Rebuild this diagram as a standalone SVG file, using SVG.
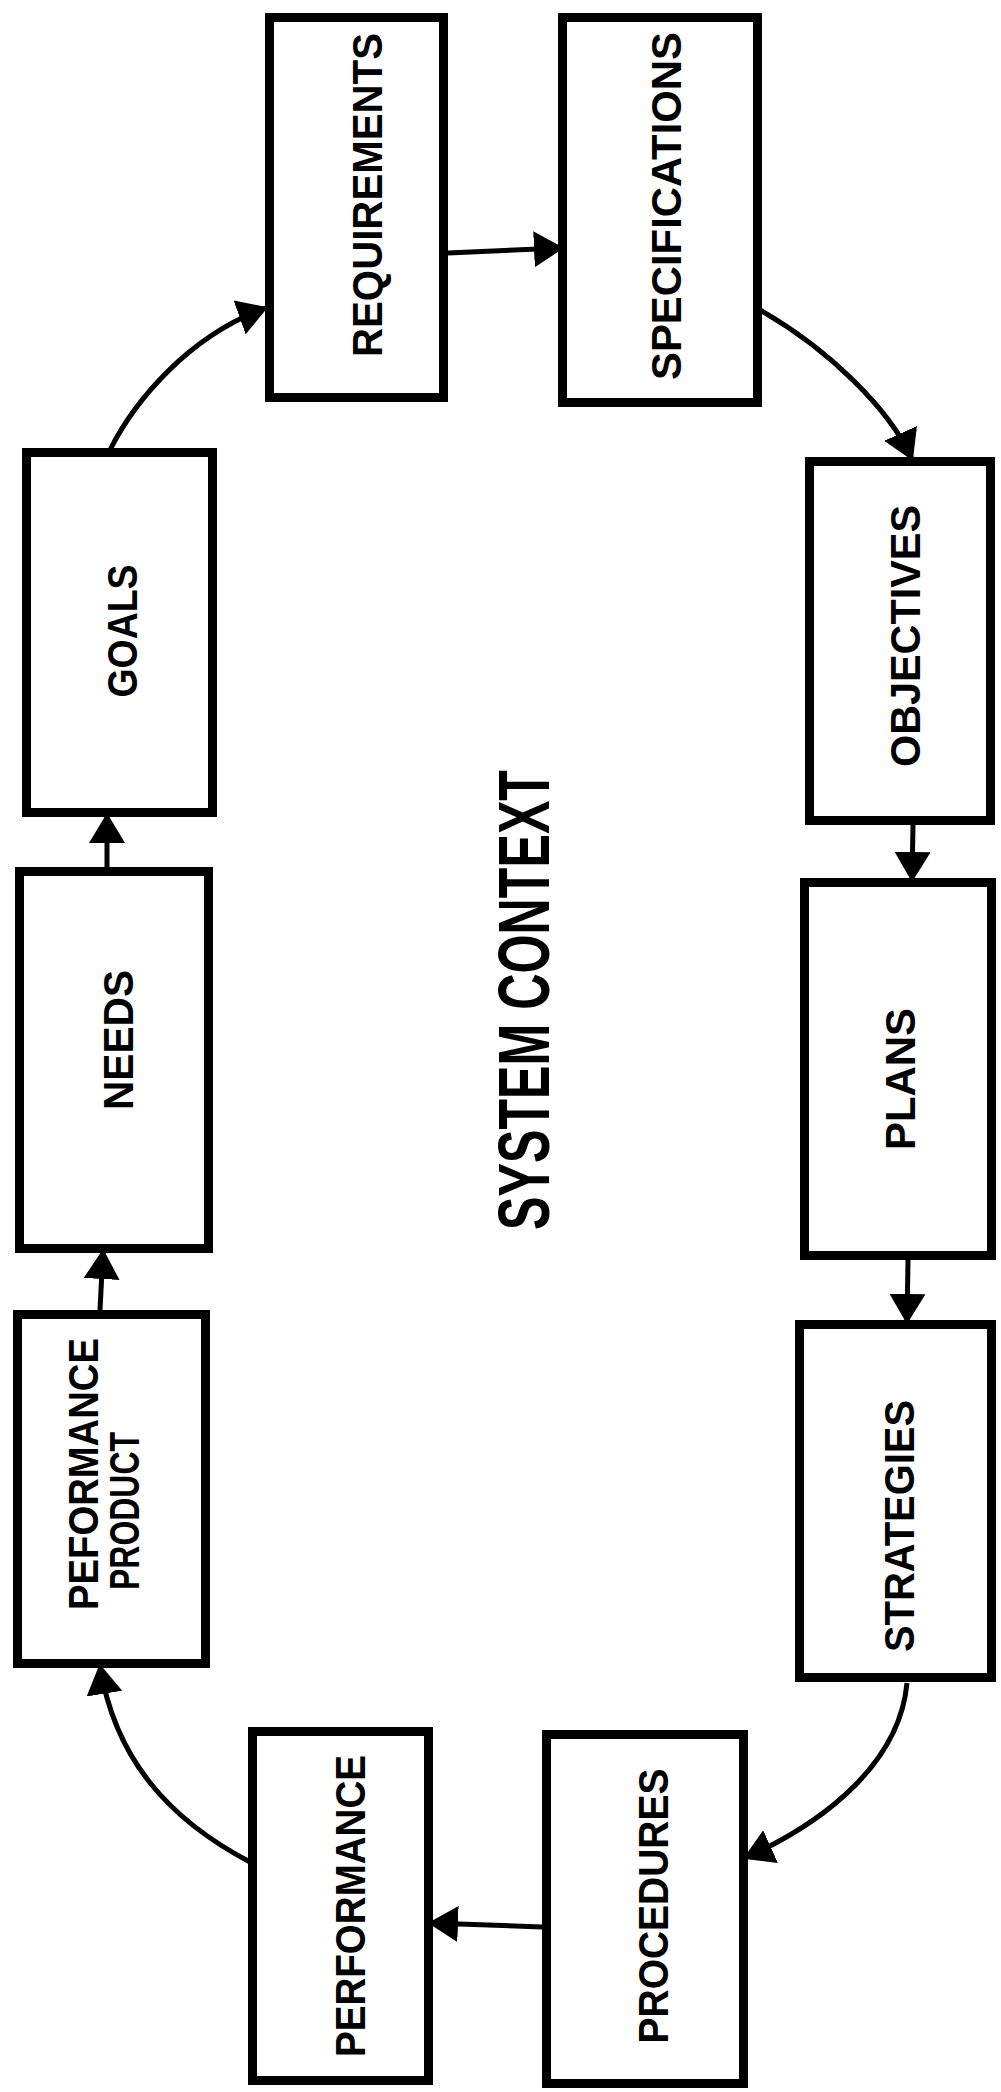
<svg xmlns="http://www.w3.org/2000/svg" width="1001" height="2092" viewBox="0 0 1001 2092">
<style>
.box{fill:#fff;stroke:#000;stroke-width:9}
.lbl{font-family:"Liberation Sans",Arial,Helvetica,sans-serif;font-weight:bold;font-size:42px;fill:#000;text-anchor:middle}
.title{font-family:"Liberation Sans",Arial,Helvetica,sans-serif;font-weight:bold;font-size:72px;fill:#000;text-anchor:middle}
.con{fill:none;stroke:#000;stroke-width:5;marker-end:url(#ah)}
</style>
<defs>
<marker id="ah" viewBox="0 0 30 36" refX="28" refY="18" markerWidth="30" markerHeight="36" markerUnits="userSpaceOnUse" orient="auto">
<path d="M0,0 L30,18 L0,36 z" fill="#000"/>
</marker>
</defs>
<rect width="1001" height="2092" fill="#fff"/>
<g id="requirements"><rect class="box" x="269.5" y="17.5" width="174" height="380"/>
<text class="lbl" transform="translate(367,195) rotate(-90)" y="15" textLength="324" lengthAdjust="spacingAndGlyphs">REQUIREMENTS</text></g>
<g id="specifications"><rect class="box" x="562.5" y="17.5" width="195" height="385"/>
<text class="lbl" transform="translate(666,206) rotate(-90)" y="15" textLength="348" lengthAdjust="spacingAndGlyphs">SPECIFICATIONS</text></g>
<g id="objectives"><rect class="box" x="809.5" y="461.5" width="181" height="359"/>
<text class="lbl" transform="translate(905,636) rotate(-90)" y="15" textLength="262" lengthAdjust="spacingAndGlyphs">OBJECTIVES</text></g>
<g id="plans"><rect class="box" x="804.5" y="882.5" width="187" height="373"/>
<text class="lbl" transform="translate(900,1079) rotate(-90)" y="15" textLength="142" lengthAdjust="spacingAndGlyphs">PLANS</text></g>
<g id="strategies"><rect class="box" x="799.5" y="1324.5" width="192" height="353"/>
<text class="lbl" transform="translate(899,1526) rotate(-90)" y="15" textLength="252" lengthAdjust="spacingAndGlyphs">STRATEGIES</text></g>
<g id="procedures"><rect class="box" x="546.5" y="1734.5" width="197" height="349"/>
<text class="lbl" transform="translate(653,1906) rotate(-90)" y="15" textLength="275" lengthAdjust="spacingAndGlyphs">PROCEDURES</text></g>
<g id="performance"><rect class="box" x="252.5" y="1731.5" width="176" height="349"/>
<text class="lbl" transform="translate(350,1906) rotate(-90)" y="15" textLength="302" lengthAdjust="spacingAndGlyphs">PERFORMANCE</text></g>
<g id="performance-product"><rect class="box" x="17.5" y="1314.5" width="188" height="349"/>
<text class="lbl" transform="translate(83,1474) rotate(-90)" y="15" textLength="272" lengthAdjust="spacingAndGlyphs">PEFORMANCE</text>
<text class="lbl" transform="translate(124,1511) rotate(-90)" y="15" textLength="158" lengthAdjust="spacingAndGlyphs">PRODUCT</text></g>
<g id="needs"><rect class="box" x="19.5" y="871.5" width="189" height="377"/>
<text class="lbl" transform="translate(118,1040) rotate(-90)" y="15" textLength="140" lengthAdjust="spacingAndGlyphs">NEEDS</text></g>
<g id="goals"><rect class="box" x="26.5" y="452.5" width="186" height="360"/>
<text class="lbl" transform="translate(122,631) rotate(-90)" y="15" textLength="133" lengthAdjust="spacingAndGlyphs">GOALS</text></g>
<g id="title"><text class="title" transform="translate(523,1000) rotate(-90)" y="26" textLength="460" lengthAdjust="spacingAndGlyphs">SYSTEM CONTEXT</text></g>
<g id="connectors">
<path class="con" d="M110,450 C135,400 190,335 266,308"/>
<path class="con" d="M448,253 L562,248"/>
<path class="con" d="M760,310 C830,350 890,410 912,459"/>
<path class="con" d="M913,825 L912,880"/>
<path class="con" d="M908,1260 L907,1322"/>
<path class="con" d="M907,1683 C900,1760 830,1820 745,1858"/>
<path class="con" d="M542,1927 L430,1923"/>
<path class="con" d="M250,1862 C170,1820 115,1760 100,1666"/>
<path class="con" d="M100,1310 L103,1251"/>
<path class="con" d="M107,868 L107,815"/>
</g>
</svg>
